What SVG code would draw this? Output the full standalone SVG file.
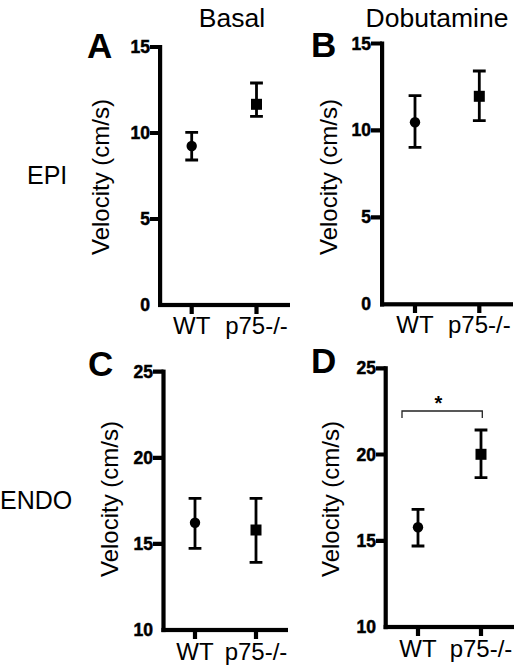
<svg xmlns="http://www.w3.org/2000/svg" width="517" height="666" viewBox="0 0 517 666">
<style>
text{font-family:"Liberation Sans",Arial,sans-serif;fill:#000}
.hdr{font-size:26.5px}
.row{font-size:25px}
.pl{font-size:35px;font-weight:bold}
.tk{font-size:17.5px;font-weight:900;text-anchor:end;stroke:#000;stroke-width:0.5}
.xl{font-size:24px;text-anchor:middle}
.yl{font-size:24px;text-anchor:middle}
.ax{fill:none;stroke:#000;stroke-width:4.2;stroke-linecap:butt;stroke-linejoin:miter}
.eb{fill:none;stroke:#000;stroke-width:2.8}
.br{fill:none;stroke:#222;stroke-width:1.3}
</style>
<rect width="517" height="666" fill="#fff"/>
<text class="hdr" x="232" y="27" text-anchor="middle">Basal</text>
<text class="hdr" x="437" y="27" text-anchor="middle">Dobutamine</text>
<text class="row" x="27" y="184">EPI</text>
<text class="row" x="0" y="509">ENDO</text>

<g id="panelA">
<text class="pl" x="87" y="58">A</text>
<rect x="158" y="45" width="4.2" height="262"/>
<rect x="158" y="302.9" width="132" height="4.2"/>
<path class="ax" d="M150,47H160M150,133H160M150,219H160M191.7,305V314M256.5,305V314"/>
<text class="tk" x="150" y="53">15</text>
<text class="tk" x="150" y="139">10</text>
<text class="tk" x="150" y="225">5</text>
<text class="tk" x="150" y="311">0</text>
<text class="xl" x="191.7" y="334">WT</text>
<text class="xl" x="256.5" y="334">p75-/-</text>
<text class="yl" transform="translate(109,177) rotate(-90)">Velocity (cm/s)</text>
<path class="eb" d="M191.7,132.3V160M185.3,132.3H198.1M185.3,160H198.1M256.5,83V116.3M250.1,83H262.9M250.1,116.3H262.9"/>
<circle cx="191.7" cy="146" r="5.2"/>
<rect x="251" y="98.8" width="11" height="11"/>
</g>

<g id="panelB">
<text class="pl" x="311" y="57">B</text>
<rect x="380" y="41.5" width="4.2" height="265"/>
<rect x="380" y="302.2" width="133" height="4.2"/>
<path class="ax" d="M371,43.5H382M371,130.4H382M371,217.4H382M415,304.3V313M479.3,304.3V313"/>
<text class="tk" x="371" y="49.5">15</text>
<text class="tk" x="371" y="136.4">10</text>
<text class="tk" x="371" y="223.4">5</text>
<text class="tk" x="371" y="310.3">0</text>
<text class="xl" x="415" y="333">WT</text>
<text class="xl" x="479.3" y="333">p75-/-</text>
<text class="yl" transform="translate(336.5,177) rotate(-90)">Velocity (cm/s)</text>
<path class="eb" d="M415,95.7V147.3M408.6,95.7H421.4M408.6,147.3H421.4M479.3,71V120.7M472.9,71H485.7M472.9,120.7H485.7"/>
<circle cx="415" cy="122.3" r="5.2"/>
<rect x="473.8" y="90.8" width="11" height="11"/>
</g>

<g id="panelC">
<text class="pl" x="88" y="376">C</text>
<rect x="161.4" y="369.6" width="4.2" height="262.5"/>
<rect x="161.4" y="627.9" width="126.6" height="4.2"/>
<path class="ax" d="M153,371.7H163.5M153,457.8H163.5M153,543.9H163.5M195,630V639M256,630V639"/>
<text class="tk" x="153" y="377.7">25</text>
<text class="tk" x="153" y="463.8">20</text>
<text class="tk" x="153" y="549.9">15</text>
<text class="tk" x="153" y="636">10</text>
<text class="xl" x="195" y="660">WT</text>
<text class="xl" x="256" y="660">p75-/-</text>
<text class="yl" transform="translate(117.5,499) rotate(-90)">Velocity (cm/s)</text>
<path class="eb" d="M195,498.3V548.3M188.6,498.3H201.4M188.6,548.3H201.4M256,498.3V562.3M249.6,498.3H262.4M249.6,562.3H262.4"/>
<circle cx="195" cy="522.7" r="5.2"/>
<rect x="250.5" y="524.5" width="11" height="11"/>
</g>

<g id="panelD">
<text class="pl" x="311" y="373">D</text>
<rect x="383.6" y="366.2" width="4.2" height="263"/>
<rect x="383.6" y="624.9" width="130.4" height="4.2"/>
<path class="ax" d="M376,368.3H385.7M376,454.5H385.7M376,540.8H385.7M418,627V636M481,627V636"/>
<text class="tk" x="376" y="374.3">25</text>
<text class="tk" x="376" y="460.5">20</text>
<text class="tk" x="376" y="546.8">15</text>
<text class="tk" x="376" y="633">10</text>
<text class="xl" x="418" y="657">WT</text>
<text class="xl" x="481" y="657">p75-/-</text>
<text class="yl" transform="translate(339,499) rotate(-90)">Velocity (cm/s)</text>
<path class="eb" d="M418,509.3V546M411.6,509.3H424.4M411.6,546H424.4M481,430V477.7M474.6,430H487.4M474.6,477.7H487.4"/>
<circle cx="418" cy="527.3" r="5.2"/>
<rect x="475.5" y="448.8" width="11" height="11"/>
</g>

<g id="connectors">
<path class="br" d="M402,418V411H482.3V418"/>
<text x="438.3" y="410" font-size="20" font-weight="bold" text-anchor="middle">*</text>
</g>
</svg>
